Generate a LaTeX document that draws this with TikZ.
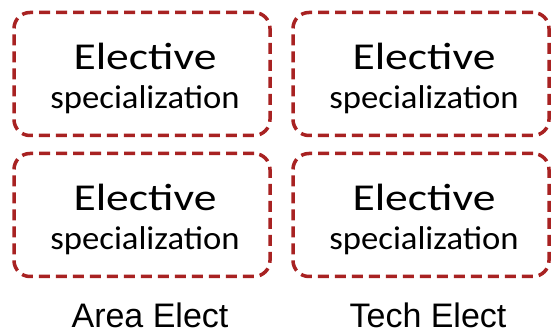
\documentclass[tikz,border=0pt]{standalone}
\usepackage{fontspec}
\setmainfont{Carlito}
\newfontfamily\labelfont{Liberation Sans}
\definecolor{elecred}{HTML}{A82222}
\tikzset{
  elecbox/.style={draw=elecred,line width=3.5pt,dash pattern=on 11pt off 6pt,
    rounded corners=16pt,minimum width=256pt,minimum height=123pt},
  bigword/.style={anchor=base,inner sep=0pt,font=\fontsize{38}{38}\selectfont},
  smallword/.style={anchor=base,inner sep=0pt,font=\fontsize{33}{33}\selectfont},
  colname/.style={anchor=base,inner sep=0pt,font=\labelfont\fontsize{34}{34}\selectfont}
}
\begin{document}
\begin{tikzpicture}[x=1pt,y=1pt]
  \useasboundingbox (0,0) rectangle (558,-336);
  % four elective boxes
  \foreach \name/\cx/\cy in {areatop/142/-74, areabot/142/-215, techtop/421/-74, techbot/421/-215}{
    \node (\name) at (\cx,\cy) [elecbox] {};
    \node (\name-elective) at ([xshift=3pt,yshift=4pt]\name.center) [bigword] {\scalebox{1.2}[1]{Elective}};
    \node (\name-spec) at ([xshift=3pt,yshift=-35pt]\name.center) [smallword] {\scalebox{1.05}[1]{specialization}};
  }

  \node (arealabel) at (150,-328) [colname] {Area Elect};
  \node (techlabel) at (428,-328) [colname] {Tech Elect};
\end{tikzpicture}
\end{document}
